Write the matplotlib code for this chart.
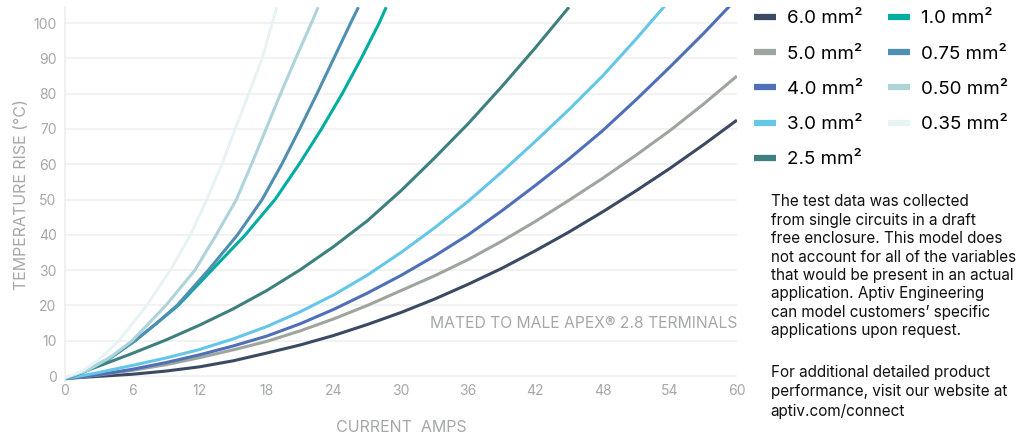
import matplotlib
matplotlib.use("Agg")
import matplotlib.pyplot as plt

# wire sizes shown in the legend (column-first order)
labels = ["6.0 mm²", "5.0 mm²", "4.0 mm²", "3.0 mm²", "2.5 mm²",
          "1.0 mm²", "0.75 mm²", "0.50 mm²", "0.35 mm²"]
colors = ["#3b4a63", "#9ca59e", "#4f6fb9", "#66c6e8", "#3e8080",
          "#00ada0", "#4f8fb2", "#aed3da", "#e8f3f5"]

# current (A) and temperature rise (°C)
x_60 = [0, 3, 6, 9, 12, 15, 18, 21, 24, 27, 30, 33, 36, 39, 42, 45, 48, 51, 54, 57, 60]
y_60 = [-0.7, -0.1, 0.5, 1.4, 2.6, 4.3, 6.5, 8.8, 11.5, 14.6, 18.0, 21.8, 26.0,
        30.5, 35.5, 40.8, 46.5, 52.5, 58.8, 65.5, 72.5]

x_50 = [0, 3, 6, 9, 12, 15, 18, 21, 24, 27, 30, 33, 36, 39, 42, 45, 48, 51, 54, 57, 60]
y_50 = [-0.8, 0.3, 1.6, 3.2, 5.2, 7.4, 9.8, 12.8, 16.2, 20.0, 24.2, 28.4, 33.0,
        38.2, 43.8, 49.8, 56.0, 62.6, 69.5, 77.0, 85.0]

x_40 = [0, 3, 6, 9, 12, 15, 18, 21, 24, 27, 30, 33, 36, 39, 42, 45, 48, 51, 54, 57, 60]
y_40 = [-0.8, 0.4, 1.9, 3.8, 6.0, 8.5, 11.3, 14.8, 18.9, 23.5, 28.5, 34.0, 40.0,
        46.8, 54.0, 61.5, 69.5, 78.3, 87.5, 97.0, 107.0]

x_30 = [0, 3, 6, 9, 12, 15, 18, 21, 24, 27, 30, 33, 36, 39, 42, 45, 48, 51, 54]
y_30 = [-0.8, 1.0, 3.0, 5.1, 7.5, 10.5, 14.0, 18.2, 23.0, 28.6, 35.0, 42.0, 49.5,
        57.8, 66.5, 75.5, 85.0, 95.5, 106.5]

x_25 = [0, 3, 6, 9, 12, 15, 18, 21, 24, 27, 30, 33, 36, 39, 42, 45]
y_25 = [-0.8, 2.8, 6.4, 10.2, 14.4, 19.0, 24.2, 30.1, 36.7, 44.0, 52.5, 61.8,
        71.5, 82.0, 93.0, 104.5]

x_10 = [0, 2, 4, 6.25, 8.2, 10.1, 13.1, 16.1, 18.75, 20.9, 22.9, 24.75, 26.45, 28.05, 28.68]
y_10 = [-0.8, 1.6, 5.0, 10, 15, 20, 30, 40, 50, 60, 70, 80, 90, 100, 104.5]

x_075 = [0, 2, 4, 6.25, 8.2, 10.0, 12.8, 15.4, 17.6, 19.35, 20.95, 22.5, 24.0, 25.5, 26.2]
y_075 = [-0.8, 1.7, 5.1, 10, 15, 20, 30, 40, 50, 60, 70, 80, 90, 100, 104.5]

x_050 = [0, 2, 4, 6.0, 9.0, 11.6, 13.5, 15.3, 16.65, 17.95, 19.25, 20.6, 22.0, 22.6]
y_050 = [-0.6, 1.6, 5.2, 10, 20, 30, 40, 50, 60, 70, 80, 90, 100, 104.5]

x_035 = [0, 1.5, 3, 4.8, 7.3, 9.4, 11.2, 12.65, 14.0, 15.2, 16.4, 17.6, 18.5, 18.9]
y_035 = [-0.4, 1.4, 4.5, 10, 20, 30, 40, 50, 60, 70, 80, 90, 100, 104.5]

series_x = [x_60, x_50, x_40, x_30, x_25, x_10, x_075, x_050, x_035]
series_y = [y_60, y_50, y_40, y_30, y_25, y_10, y_075, y_050, y_035]

x_ticks = list(range(0, 61, 6))
y_ticks = list(range(0, 101, 10))

note_1 = ("The test data was collected\n"
          "from single circuits in a draft\n"
          "free enclosure. This model does\n"
          "not account for all of the variables\n"
          "that would be present in an actual\n"
          "application. Aptiv Engineering\n"
          "can model customers\u2019 specific\n"
          "applications upon request.")
note_2 = ("For additional detailed product\n"
          "performance, visit our website at\n"
          "aptiv.com/connect")

grey = "#a4a9a4"
plt.rcParams["font.family"] = ["Inter", "DejaVu Sans"]

fig = plt.figure(figsize=(10.18, 4.34), dpi=100)
ax = fig.add_axes([0.0639, 0.1214, 0.660, 0.862])

lines = []
for xs, ys, c, lab in zip(series_x, series_y, colors, labels):
    ln, = ax.plot(xs, ys, color=c, lw=2.2, label=lab,
                  solid_joinstyle="round", solid_capstyle="butt")
    lines.append(ln)

ax.set_xlim(0, 60)
ax.set_ylim(-1.5, 104.5)
ax.set_xticks(x_ticks)
ax.set_yticks(y_ticks)
ax.grid(axis="y", color="#efefef", lw=1.1)
ax.set_axisbelow(True)
ax.tick_params(length=0, colors=grey, labelsize=10, pad=6)
ax.tick_params(axis="x", pad=2)
for s in ["top", "right", "bottom"]:
    ax.spines[s].set_visible(False)
ax.spines["left"].set_color("#eeeeee")
ax.spines["left"].set_linewidth(1.1)

ax.set_xlabel("CURRENT  AMPS", color=grey, fontsize=11.5, labelpad=16)
ax.set_ylabel("TEMPERATURE RISE (°C)", color=grey, fontsize=11.5, labelpad=3)

ax.text(60, 15.0, "MATED TO MALE APEX® 2.8 TERMINALS", ha="right", va="center",
        color=grey, fontsize=11.3)

leg = fig.legend(handles=lines, loc="upper left", bbox_to_anchor=(0.733, 0.994),
                 ncol=2, frameon=False, fontsize=13.5, handlelength=1.2,
                 handletextpad=0.55, columnspacing=1.35, labelspacing=0.97,
                 borderaxespad=0)
for h in leg.legend_handles:
    h.set_linewidth(4.5)

fig.text(0.757, 0.552, note_1, ha="left", va="top", fontsize=11,
         color="#111111", linespacing=1.28)
fig.text(0.757, 0.159, note_2, ha="left", va="top", fontsize=11,
         color="#111111", linespacing=1.36)

fig.savefig("out.png", dpi=100)
